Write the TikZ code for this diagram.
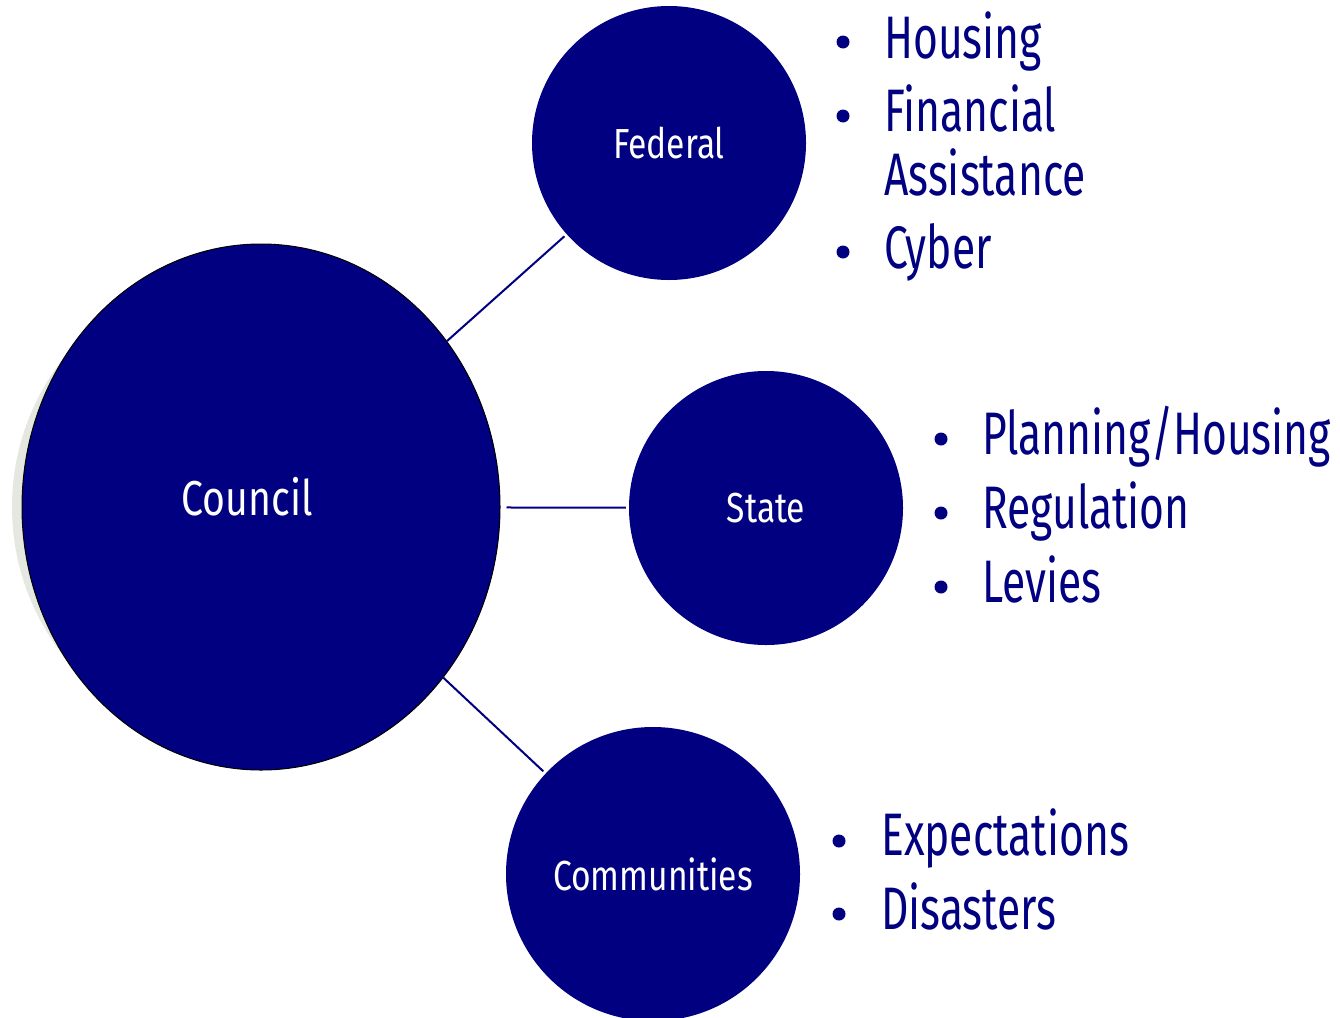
\documentclass[tikz,border=0pt]{standalone}
\usepackage{fontspec}
\setmainfont{Fira Sans}[FakeStretch=0.71]
\newfontfamily\hubfont{Fira Sans}[FakeStretch=0.8]
\usetikzlibrary{shapes.geometric}
\definecolor{navy}{RGB}{0,0,128}
\definecolor{shade}{RGB}{228,232,224}
\begin{document}
\begin{tikzpicture}[x=1pt,y=-1pt,
  hub/.style={circle, fill=navy, text=white, minimum size=274pt, inner sep=0pt,
    font=\hubfont\fontsize{42}{50}\selectfont},
  link/.style={draw=navy, line width=2pt},
  item/.style={anchor=base west, inner sep=0pt, text=navy,
    font=\fontsize{60}{72}\selectfont},
  dot/.style={circle, fill=navy, minimum size=13pt, inner sep=0pt}]
\useasboundingbox (0,0) rectangle (1340,1017);

% central body with its soft shadow
\node[ellipse, fill=shade, minimum width=478pt, minimum height=480pt, inner sep=0pt] (councilshadow) at (251,507) {};
\node[ellipse, fill=navy, draw=black, line width=1pt, minimum width=478pt, minimum height=526pt, inner sep=0pt] (council) at (261,507) {};
\node[text=white, inner sep=0pt, font=\hubfont\fontsize{49}{58}\selectfont] (counciltext) at (247,497) {Council};

% the three partners
\node[hub] (federal) at (669,143) {Federal};
\node[hub] (state) at (766,508) {State};
\node[hub, minimum size=294pt] (communities) at (653,874) {Communities};

% connectors
\draw[link, shorten >=3pt] (council) -- (federal);
\draw[link, shorten <=6pt, shorten >=3pt] (council) -- (state);
\draw[link, shorten >=3pt] (council) -- (communities);

% federal topics
\node[dot] (fd1) at (843,42) {};
\node[item] (fi1) at (884,58) {Housing};
\node[dot] (fd2) at (843,116) {};
\node[item] (fi2) at (884,131) {Financial};
\node[item] (fi3) at (884,195) {Assistance};
\node[dot] (fd3) at (843,252) {};
\node[item] (fi4) at (884,268) {Cyber};

% state topics
\node[dot] (sd1) at (941,439) {};
\node[item] (si1) at (982,454) {Planning/Housing};
\node[dot] (sd2) at (941,513) {};
\node[item] (si2) at (982,528) {Regulation};
\node[dot] (sd3) at (941,587) {};
\node[item] (si3) at (982,602) {Levies};

% community topics
\node[dot] (cd1) at (839,841) {};
\node[item] (ci1) at (881,855) {Expectations};
\node[dot] (cd2) at (839,914) {};
\node[item] (ci2) at (881,929) {Disasters};
\end{tikzpicture}
\end{document}
